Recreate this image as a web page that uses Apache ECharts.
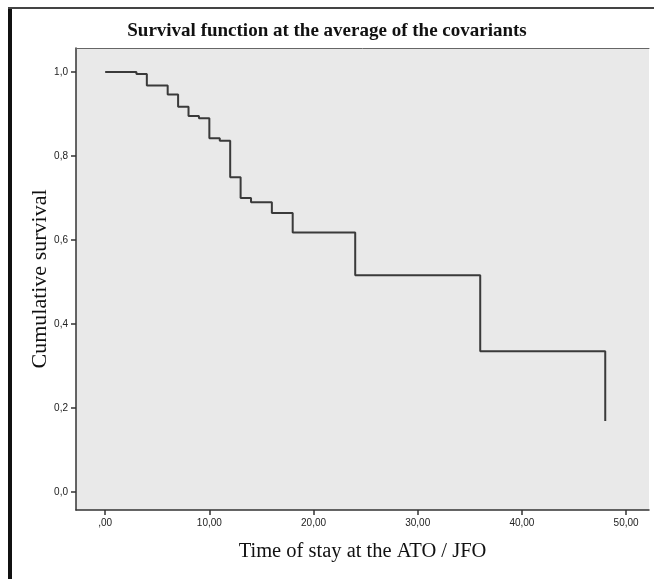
<!DOCTYPE html>
<html>
<head>
<meta charset="utf-8">
<script src="https://cdn.jsdelivr.net/npm/echarts@6/dist/echarts.min.js"></script>
<style>
  html, body { margin: 0; padding: 0; background: #fff; }
  #chart { width: 654px; height: 579px; }
</style>
</head>
<body>
<div id="chart"></div>
<script>
// time of stay (step positions) and survival value after each step
var times = [0, 3, 4, 6, 7, 8, 9, 10, 11, 12, 13, 14, 16, 18, 24, 36, 48];
var survival = [1.0, 0.995, 0.968, 0.946, 0.917, 0.895, 0.890, 0.842, 0.836, 0.749, 0.700, 0.690, 0.664, 0.618, 0.516, 0.335, 0.169];

var xTicks = [0, 10, 20, 30, 40, 50];
var yTicks = [0, 0.2, 0.4, 0.6, 0.8, 1.0];

var chart = echarts.init(document.getElementById('chart'));

var points = times.map(function (t, i) { return [t, survival[i]]; });

function fmtX(v) {
  var s = v.toFixed(2).replace('.', ',');
  return s.indexOf('0,') === 0 ? s.slice(1) : s;
}
function fmtY(v) {
  return v.toFixed(1).replace('.', ',');
}

var serif = '"Liberation Serif", "DejaVu Serif", serif';
var sans = '"Liberation Sans", Arial, sans-serif';

chart.setOption({
  animation: false,
  backgroundColor: '#ffffff',
  title: {
    text: 'Survival function at the average of the covariants',
    left: 'center',
    top: 17,
    textStyle: { fontFamily: serif, fontSize: 19, fontWeight: 'bold', color: '#111' }
  },
  graphic: [
    { type: 'rect', shape: { x: 8, y: 8, width: 4, height: 571 }, style: { fill: '#111' } },
    { type: 'rect', shape: { x: 8, y: 7, width: 646, height: 2 }, style: { fill: '#444' } }
  ],
  grid: {
    left: 76, top: 48, right: 5, bottom: 69,
    show: true, backgroundColor: '#e9e9e9', borderWidth: 0
  },
  xAxis: [{
    type: 'value',
    min: -2.8,
    max: 52.2,
    name: 'Time of stay at the ATO / JFO',
    nameLocation: 'middle',
    nameGap: 31,
    nameMoveOverlap: false,
    nameTextStyle: { fontFamily: serif, fontSize: 20.5, color: '#111' },
    axisLine: { onZero: false, lineStyle: { color: '#333', width: 1.5 } },
    axisTick: { show: true, length: 5, customValues: xTicks, lineStyle: { color: '#333', width: 1.5 } },
    axisLabel: { customValues: xTicks, formatter: fmtX, margin: 8, fontFamily: sans, fontSize: 10, color: '#222' },
    splitLine: { show: false }
  }, {
    type: 'value',
    position: 'top',
    min: -2.8,
    max: 52.2,
    axisLine: { show: true, onZero: false, lineStyle: { color: '#666', width: 1 } },
    axisTick: { show: false },
    axisLabel: { show: false },
    splitLine: { show: false }
  }],
  yAxis: {
    type: 'value',
    min: -0.043,
    max: 1.057,
    name: 'Cumulative survival',
    nameLocation: 'middle',
    nameGap: 25,
    nameMoveOverlap: false,
    nameTextStyle: { fontFamily: serif, fontSize: 22, color: '#111' },
    axisLine: { show: true, onZero: false, lineStyle: { color: '#333', width: 1.5 } },
    axisTick: { show: true, length: 5, customValues: yTicks, lineStyle: { color: '#333', width: 1.5 } },
    axisLabel: { customValues: yTicks, formatter: fmtY, margin: 8, fontFamily: sans, fontSize: 10, color: '#222' },
    splitLine: { show: false }
  },
  series: [{
    type: 'line',
    step: 'end',
    data: points,
    showSymbol: false,
    symbol: 'none',
    lineStyle: { color: '#3a3a3a', width: 2 }
  }]
});
</script>
</body>
</html>
